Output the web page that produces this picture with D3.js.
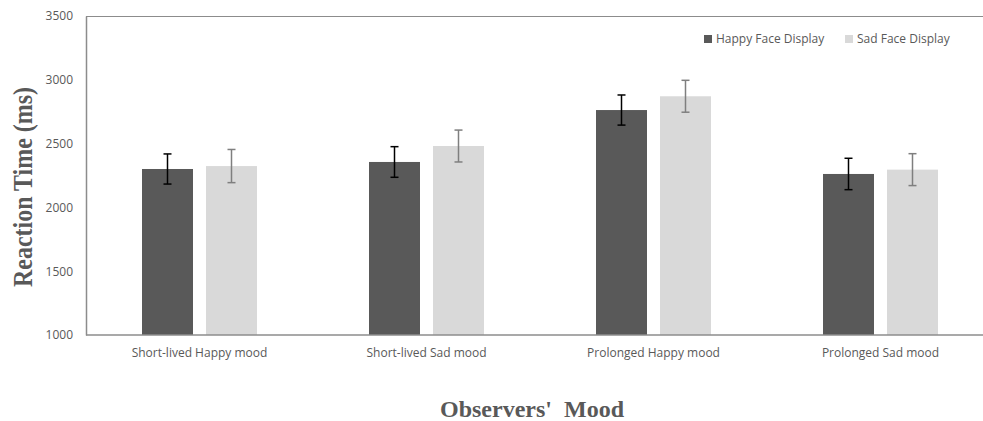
<!DOCTYPE html>
<html><head><meta charset="utf-8">
<script src="https://cdn.jsdelivr.net/npm/d3@7"></script>
<style>body{margin:0;background:#fff}svg{display:block}</style>
</head><body><svg id="c" width="983" height="421"></svg>
<script>
const categories = ["Short-lived Happy mood","Short-lived Sad mood","Prolonged Happy mood","Prolonged Sad mood"];
const seriesNames = ["Happy Face Display","Sad Face Display"];
const happyValues = [2301, 2356, 2763, 2262];
const sadValues = [2324, 2481, 2871, 2296];
const happyErrors = [118, 120, 118, 123];
const sadErrors = [130, 125, 125, 125];
const yTicks = [1000,1500,2000,2500,3000,3500];
const colors = ["#595959","#d9d9d9"];
const errColors = ["#000000","#7f7f7f"];

(function(){
const svg = d3.select("#c");
const pL=86, pT=16, pB=335, rightVis=983;
const y = d3.scaleLinear().domain([1000,3500]).range([pB, pT]);
const x0 = d3.scaleBand().domain(categories).range([pL, 994]).paddingInner(0).paddingOuter(0);
const x1 = d3.scaleBand().domain(seriesNames).range([x0.bandwidth()/2-57.5, x0.bandwidth()/2+57.5]).paddingInner(13/64).paddingOuter(0);

const font = "'Open Sans', 'Segoe UI', sans-serif";
svg.append("line").attr("x1",pL).attr("x2",rightVis).attr("y1",pT+0.5).attr("y2",pT+0.5).attr("stroke","#8c8c8c").attr("stroke-width",1);

const data = categories.map((c,i)=>({c, vals:[{s:seriesNames[0],v:happyValues[i],e:happyErrors[i],k:0},{s:seriesNames[1],v:sadValues[i],e:sadErrors[i],k:1}]}));
const g = svg.selectAll("g.grp").data(data).enter().append("g").attr("class","grp").attr("transform",d=>`translate(${x0(d.c)},0)`);
g.selectAll("rect").data(d=>d.vals).enter().append("rect")
  .attr("x",d=>x1(d.s)).attr("width",x1.bandwidth())
  .attr("y",d=>y(d.v)).attr("height",d=>y(1000)-y(d.v))
  .attr("fill",d=>colors[d.k]);
const eb = g.selectAll("g.eb").data(d=>d.vals).enter().append("g").attr("class","eb").attr("stroke",d=>errColors[d.k]).attr("stroke-width",1.5);
const cx = d=>x1(d.s)+x1.bandwidth()/2;
eb.append("line").attr("x1",cx).attr("x2",cx).attr("y1",d=>y(d.v+d.e)).attr("y2",d=>y(d.v-d.e));
eb.append("line").attr("x1",d=>cx(d)-4).attr("x2",d=>cx(d)+4).attr("y1",d=>y(d.v+d.e)).attr("y2",d=>y(d.v+d.e));
eb.append("line").attr("x1",d=>cx(d)-4).attr("x2",d=>cx(d)+4).attr("y1",d=>y(d.v-d.e)).attr("y2",d=>y(d.v-d.e));

const ya = svg.append("g").attr("transform",`translate(${pL},0)`).call(d3.axisLeft(y).tickValues(yTicks).tickSize(0).tickPadding(13).tickFormat(d3.format("d")));
ya.select(".domain").attr("stroke","#8c8c8c").attr("stroke-width",1.5);
ya.selectAll("text").attr("fill","#595959").style("font-family",font).style("font-size","12px");

const xa = svg.append("g").attr("transform",`translate(0,${pB})`).call(d3.axisBottom(x0).tickSize(0).tickPadding(13));
xa.select(".domain").remove();
svg.append("line").attr("x1",pL).attr("x2",rightVis).attr("y1",pB).attr("y2",pB).attr("stroke","#8c8c8c").attr("stroke-width",1.5);
xa.selectAll("text").attr("fill","#595959").style("font-family",font).style("font-size","12px");

svg.append("text").attr("transform","translate(32,187) rotate(-90)").attr("text-anchor","middle")
  .attr("textLength",200).attr("lengthAdjust","spacingAndGlyphs")
  .style("font-family","'Liberation Serif','Times New Roman',serif").style("font-weight","bold").style("font-size","27px").attr("fill","#595959").text("Reaction Time (ms)");
svg.append("text").attr("x",532).attr("y",417).attr("text-anchor","middle")
  .style("font-family","'Liberation Serif','Times New Roman',serif").style("font-weight","bold").style("font-size","24px").attr("fill","#595959").text("Observers'\u00a0\u00a0Mood");

const legX=[704,845];
seriesNames.forEach((s,i)=>{
  svg.append("rect").attr("x",legX[i]).attr("y",35).attr("width",8).attr("height",8).attr("fill",colors[i]);
  svg.append("text").attr("x",legX[i]+12).attr("y",43).style("font-family",font).style("font-size","12px").attr("fill","#595959").text(s);
});
})();
</script></body></html>
